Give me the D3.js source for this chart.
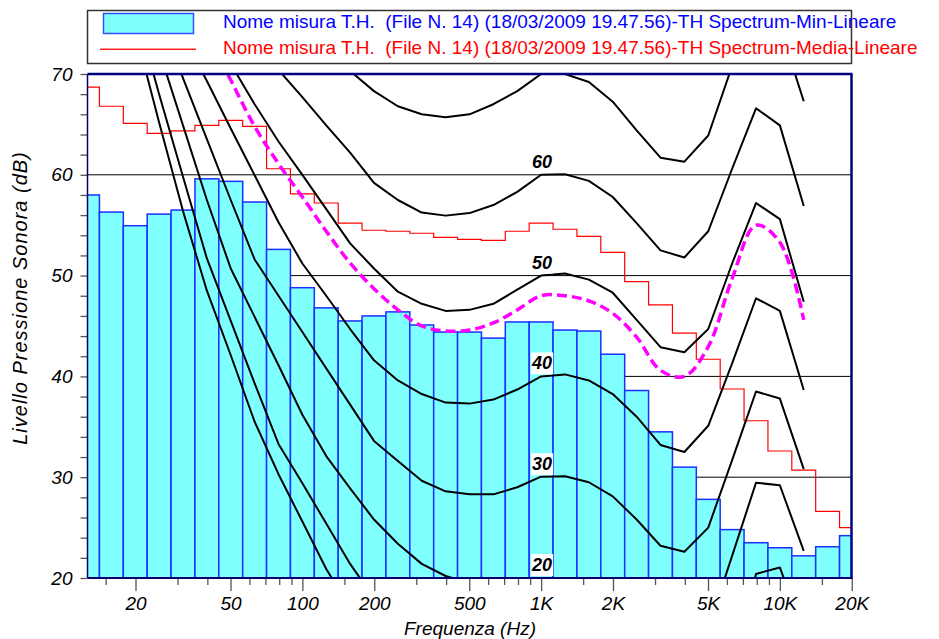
<!DOCTYPE html>
<html>
<head>
<meta charset="utf-8">
<script src="https://cdn.jsdelivr.net/npm/d3@7"></script>
<style>
body { margin: 0; background: #fff; }
text { font-family: "Liberation Sans", Arial, Helvetica, sans-serif; }
</style>
</head>
<body>
<script>
// 1/3 octave bands shown on the chart (12.5 Hz .. 20 kHz)
var bands = ["12.5","16","20","25","31.5","40","50","63","80","100","125","160","200","250","315","400","500","630","800","1K","1.25K","1.6K","2K","2.5K","3.15K","4K","5K","6.3K","8K","10K","12.5K","16K","20K"];

// Spectrum-Min-Lineare (bars)
var minLevels = [58.0, 56.3, 54.95, 56.1, 56.5, 59.6, 59.35, 57.3, 52.6, 48.8, 46.8, 45.5, 46.0, 46.4, 45.1, 44.4, 44.4, 43.8, 45.4, 45.4, 44.6, 44.5, 42.2, 38.6, 34.5, 31.0, 27.8, 24.8, 23.5, 23.0, 22.2, 23.1, 24.2];

// Spectrum-Media-Lineare (red steps)
var meanLevels = [68.7, 66.8, 65.1, 64.1, 64.35, 64.9, 65.4, 64.8, 60.6, 58.1, 57.2, 55.2, 54.5, 54.4, 54.2, 53.8, 53.6, 53.5, 54.4, 55.2, 54.6, 53.9, 52.3, 49.4, 47.1, 44.3, 41.7, 38.75, 35.6, 32.6, 30.7, 26.6, 25.0];

// equal loudness curves, from 20 Hz (band 2) to 12.5 kHz (band 30)
var curveStart = 2;
var phon0  = [74.3, 65.2, 56.4, 48.5, 42.1, 35.5, 30.3, 25.6, 20.9, 17.0, 14.0, 11.0, 9.0, 7.5, 6.5, 6.0, 6.5, 7.0, 7.0, 6.0, 4.0, 2.0, 0.0, -1.0, 0.0, 4.0, 10.0, 12.0, 8.0];
var phon10 = [76.5, 68.0, 59.8, 51.7, 45.5, 39.3, 33.3, 29.4, 25.4, 21.4, 18.0, 15.5, 13.5, 12.0, 11.0, 10.5, 10.5, 10.0, 10.1, 9.5, 8.0, 5.5, 3.0, 2.0, 3.0, 10.0, 20.4, 21.05, 14.5];
var phon20 = [80.3, 72.3, 64.9, 57.5, 50.7, 45.9, 41.1, 36.2, 32.1, 28.9, 25.8, 23.4, 21.4, 20.2, 19.5, 19.4, 19.7, 20.0, 20.0, 19.6, 18.0, 15.5, 13.0, 12.5, 15.0, 22.2, 29.45, 29.2, 22.7];
var phon30 = [82.5, 75.8, 69.6, 63.55, 57.5, 51.6, 48.0, 44.4, 40.8, 37.2, 33.6, 31.6, 29.65, 28.6, 28.3, 28.3, 29.0, 30.05, 30.1, 29.5, 28.1, 25.8, 23.2, 22.6, 25.0, 31.7, 38.5, 37.8, 30.8];
var phon40 = [84.2, 78.8, 73.9, 69.3, 64.6, 59.95, 55.3, 51.2, 48.0, 44.7, 41.6, 39.6, 38.25, 37.4, 37.3, 37.7, 38.7, 40.0, 40.2, 39.6, 38.25, 36.0, 33.2, 32.5, 35.1, 41.3, 47.75, 46.5, 38.65];
var phon50 = [88.0, 82.0, 77.0, 75.0, 71.0, 67.0, 63.3, 60.0, 56.6, 53.2, 50.7, 48.4, 47.2, 46.5, 46.6, 47.2, 48.6, 50.0, 50.2, 49.6, 48.3, 45.6, 42.9, 42.4, 44.7, 51.2, 57.2, 55.6, 47.4];
var phon60 = [95.0, 90.0, 86.0, 82.0, 78.5, 74.5, 70.4, 67.7, 64.9, 62.2, 59.2, 57.5, 56.25, 55.95, 56.2, 57.0, 58.3, 60.0, 60.05, 59.4, 57.8, 55.2, 52.5, 51.8, 54.4, 60.6, 66.6, 64.9, 56.9];
var phon70 = [100.0, 96.0, 92.0, 88.0, 85.0, 82.0, 78.5, 75.8, 73.0, 70.3, 68.3, 66.8, 66.0, 65.7, 66.0, 67.0, 68.3, 70.0, 70.0, 69.2, 67.25, 64.4, 61.7, 61.3, 63.9, 70.8, 76.5, 74.7, 67.3];
// dashed magenta loudness curve
var loudness = [95.0, 88.0, 82.0, 74.0, 69.4, 64.8, 61.1, 57.8, 54.4, 51.25, 48.7, 46.6, 45.0, 44.5, 44.6, 45.3, 46.6, 48.0, 48.0, 47.5, 46.25, 43.9, 40.6, 40.0, 42.95, 49.7, 55.0, 53.3, 45.6];

var curveLabels = [60, 50, 40, 30, 20];

var yTicks = d3.range(20, 71, 2);
var gridLevels = [30, 40, 50, 60];
var minorFreqs = [15, 30, 40, 60, 70, 80, 90, 150, 300, 400, 600, 700, 800, 900, 1500, 3000, 4000, 6000, 7000, 8000, 9000, 15000];
var majorFreqs = [20, 50, 100, 200, 500, 1000, 2000, 5000, 10000, 20000];
var majorNames = ["20", "50", "100", "200", "500", "1K", "2K", "5K", "10K", "20K"];

var legendMin = "Nome misura T.H.  (File N. 14) (18/03/2009 19.47.56)-TH Spectrum-Min-Lineare";
var legendMean = "Nome misura T.H.  (File N. 14) (18/03/2009 19.47.56)-TH Spectrum-Media-Lineare";

var width = 939, height = 639;
var pLeft = 87.5, pRight = 851.5, pTop = 74, pBottom = 578;

// band center frequency (exact 1/3 octave)
function fc(i){ return Math.pow(10, 1.1 + i / 10); }

var x = d3.scaleLog().domain([fc(0), fc(32)]).range([pLeft, pRight]);
var y = d3.scaleLinear().domain([20, 70]).range([pBottom, pTop]);

var svg = d3.select("body").append("svg")
	.attr("width", width)
	.attr("height", height);

svg.append("clipPath").attr("id", "plot-clip")
	.append("rect")
	.attr("x", pLeft).attr("y", pTop)
	.attr("width", pRight - pLeft).attr("height", pBottom - pTop);

// legend
var legend = svg.append("g");
legend.append("rect")
	.attr("x", 87.5).attr("y", 10.5)
	.attr("width", 764).attr("height", 53)
	.attr("fill", "#fff").attr("stroke", "#333").attr("stroke-width", 1.5);
legend.append("rect")
	.attr("x", 103.5).attr("y", 13.5)
	.attr("width", 90).attr("height", 20)
	.attr("fill", "#80ffff").attr("stroke", "#3050ff").attr("stroke-width", 1.5);
legend.append("rect")
	.attr("x", 100).attr("y", 48.6)
	.attr("width", 96).attr("height", 1.3)
	.attr("fill", "#ff0000");
legend.selectAll("text.leg")
	.data([[legendMin, "#0000ff", 28], [legendMean, "#ff0000", 54]])
	.enter().append("text")
	.attr("class", "leg")
	.attr("x", 223).attr("y", function(d){ return d[2]; })
	.attr("fill", function(d){ return d[1]; })
	.style("font-size", "19px")
	.style("white-space", "pre")
	.text(function(d){ return d[0]; });

var plot = svg.append("g").attr("clip-path", "url(#plot-clip)");

// grid lines (behind the bars)
plot.selectAll("line.grid")
	.data(gridLevels)
	.enter().append("line")
	.attr("class", "grid")
	.attr("x1", pLeft).attr("x2", pRight)
	.attr("y1", function(d){ return y(d); })
	.attr("y2", function(d){ return y(d); })
	.attr("stroke", "#000").attr("stroke-width", 1);

// bars for the minimum spectrum
var half = Math.pow(10, 0.05);
plot.selectAll("rect.bar")
	.data(minLevels)
	.enter().append("rect")
	.attr("class", "bar")
	.attr("x", function(d, i){ return x(fc(i) / half); })
	.attr("width", function(d, i){ return x(fc(i) * half) - x(fc(i) / half); })
	.attr("y", function(d){ return y(d); })
	.attr("height", function(d){ return y(20) - y(d); })
	.attr("fill", "#80ffff")
	.attr("stroke", "#1a30ff")
	.attr("stroke-width", 1.5);

// red step line for the mean spectrum
var stepPts = [];
meanLevels.forEach(function(v, i){
	stepPts.push([x(fc(i) / half), y(v)]);
	stepPts.push([x(fc(i) * half), y(v)]);
});
plot.append("path")
	.attr("d", d3.line()(stepPts))
	.attr("fill", "none")
	.attr("stroke", "#ff0000")
	.attr("stroke-width", 1.2);

// equal loudness contours
var contours = [phon0, phon10, phon20, phon30, phon40, phon50, phon60, phon70];
var contourLine = d3.line()
	.x(function(d, i){ return x(fc(i + curveStart)); })
	.y(function(d){ return y(d); });

plot.selectAll("path.contour")
	.data(contours)
	.enter().append("path")
	.attr("class", "contour")
	.attr("d", contourLine)
	.attr("fill", "none")
	.attr("stroke", "#000")
	.attr("stroke-width", 2)
	.attr("stroke-linejoin", "round");

plot.append("path")
	.attr("d", contourLine.curve(d3.curveCatmullRom.alpha(0.5))(loudness))
	.attr("fill", "none")
	.attr("stroke", "#ff00ff")
	.attr("stroke-width", 3.5)
	.attr("stroke-dasharray", "10,5");

// curve labels at 1 kHz
var labelG = svg.append("g");
var lx = x(1000) + 1;
labelG.selectAll("rect.lab")
	.data(curveLabels)
	.enter().append("rect")
	.attr("class", "lab")
	.attr("x", lx - 11).attr("width", 22)
	.attr("y", function(d){ return y(d) - 24; })
	.attr("height", 22)
	.attr("fill", "#fff");
labelG.selectAll("text.lab")
	.data(curveLabels)
	.enter().append("text")
	.attr("class", "lab")
	.attr("x", lx)
	.attr("y", function(d){ return y(d) - 7; })
	.attr("text-anchor", "middle")
	.style("font-size", "18px")
	.style("font-weight", "bold")
	.style("font-style", "italic")
	.text(function(d){ return d; });

// axes
var xMinor = d3.axisBottom(x).tickValues(minorFreqs).tickSize(7).tickFormat("");
var xMajor = d3.axisBottom(x).tickValues(majorFreqs).tickSize(13).tickPadding(6)
	.tickFormat(function(d, i){ return majorNames[i]; });

svg.append("g").attr("transform", "translate(0," + pBottom + ")").call(xMinor);
svg.append("g").attr("transform", "translate(0," + pBottom + ")").call(xMajor);

var yAxis = d3.axisLeft(y).tickValues(yTicks).tickSize(7).tickPadding(8)
	.tickFormat(function(d){ return d % 10 === 0 ? d : ""; });
svg.append("g").attr("transform", "translate(" + pLeft + ",0)").call(yAxis);

svg.selectAll(".domain").remove();
svg.selectAll(".tick line").attr("stroke", "#555").attr("stroke-width", 1.3);
svg.selectAll(".tick text")
	.attr("fill", "#000")
	.style("font-size", "19px")
	.style("font-style", "italic")
	.style("font-family", "'Liberation Sans', Arial, sans-serif");

// frame
svg.append("line").attr("x1", pLeft).attr("x2", pLeft).attr("y1", pTop).attr("y2", pBottom)
	.attr("stroke", "#000070").attr("stroke-width", 1.5);
svg.append("line").attr("x1", pLeft).attr("x2", pRight + 1).attr("y1", pBottom).attr("y2", pBottom)
	.attr("stroke", "#000070").attr("stroke-width", 2);
svg.append("line").attr("x1", pLeft).attr("x2", pRight + 1).attr("y1", pTop).attr("y2", pTop)
	.attr("stroke", "#000080").attr("stroke-width", 2.5);
svg.append("line").attr("x1", pRight).attr("x2", pRight).attr("y1", pTop).attr("y2", pBottom)
	.attr("stroke", "#000080").attr("stroke-width", 2.5);

// axis titles
svg.append("text")
	.attr("x", 470).attr("y", 635)
	.attr("text-anchor", "middle")
	.style("font-size", "19px")
	.style("font-style", "italic")
	.text("Frequenza (Hz)");

svg.append("text")
	.attr("transform", "translate(27,298) rotate(-90)")
	.attr("text-anchor", "middle")
	.style("font-size", "20px")
	.style("letter-spacing", "1px")
	.style("font-style", "italic")
	.text("Livello Pressione Sonora (dB)");
</script>
</body>
</html>
